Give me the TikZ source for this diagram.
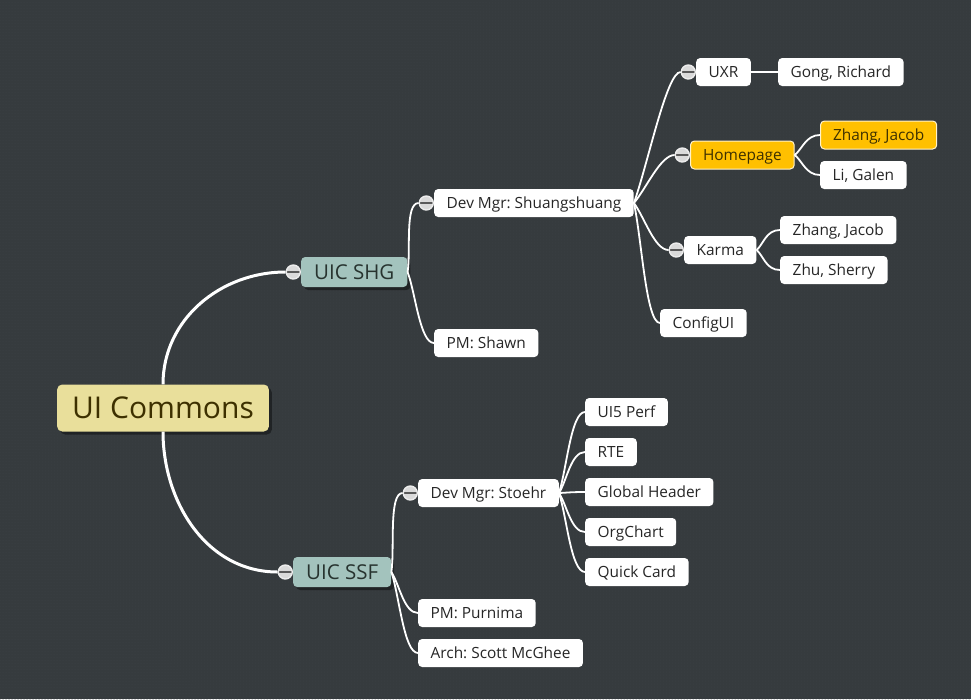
\documentclass[tikz,border=0pt]{standalone}
\usepackage{fontspec}
\setmainfont{Open Sans}
\usetikzlibrary{positioning,patterns,shadows,calc}
\frenchspacing

\definecolor{board}{HTML}{363B3E}
\definecolor{boarddot}{HTML}{41464A}
\definecolor{rootfill}{HTML}{E9DF9B}
\definecolor{roottext}{HTML}{3D3000}
\definecolor{teamfill}{HTML}{A3C3BD}
\definecolor{teamtext}{HTML}{27332F}
\definecolor{hilite}{HTML}{FFC000}
\definecolor{foldfill}{HTML}{DADADA}

\tikzset{
    twig/.style={to path={.. controls ($(\tikztostart)!0.3!(\tikztotarget)$)
        and ($(\tikztotarget)+(-14,0)$) .. (\tikztotarget) \tikztonodes}},
}

\begin{document}
\begin{tikzpicture}[x=1pt,y=-1pt,
    trunk/.style={white,line width=3pt},
    branch/.style={white,line width=1.8pt,twig},
    topic/.style={rounded corners=5pt,minimum height=47pt,inner xsep=15pt,fill=rootfill,text=roottext,
        text height=21.4pt,text depth=0pt,
        font=\fontsize{30}{33}\selectfont,drop shadow={shadow xshift=3pt,shadow yshift=-3pt,fill=black,opacity=.4}},
    team/.style={rounded corners=4pt,minimum height=30pt,inner xsep=13pt,fill=teamfill,text=teamtext,anchor=west,
        text height=14.6pt,text depth=0pt,
        font=\fontsize{20.5}{23}\selectfont,drop shadow={shadow xshift=3pt,shadow yshift=-3pt,fill=black,opacity=.4}},
    item/.style={rounded corners=4pt,minimum height=28pt,inner xsep=12.5pt,fill=white,text=black!85,anchor=west,
        text height=11pt,text depth=0pt,font=\fontsize{15.4}{18}\selectfont},
    hot/.style={item,fill=hilite,draw=white!80!hilite,line width=1pt,text=roottext},
    fold/.style={circle,minimum size=14pt,inner sep=0pt,fill=foldfill,draw=white!85!gray,line width=1.4pt,
        path picture={\draw[gray!70!black,line width=1.3pt] (path picture bounding box.west) -- (path picture bounding box.east);}}]

    % background
    \fill[board] (0,0) rectangle (971,699);
    \fill[pattern=dots,pattern color=boarddot] (0,0) rectangle (971,699);
    \useasboundingbox (0,0) rectangle (971,699);

    % central topic and teams
    \node[topic] (root) at (163,408) {UI Commons};
    \node[team] (shg) at (301,272) {UIC SHG};
    \node[team] (ssf) at (293,572) {UIC SSF};
    \node[fold,left=0pt of shg] (shg-f) {};
    \node[fold,left=0pt of ssf] (ssf-f) {};

    % SHG side
    \node[item] (dms) at (434,203) {Dev Mgr: Shuangshuang};
    \node[item] (shawn) at (434,343) {PM: Shawn};
    \node[fold,left=0pt of dms] (dms-f) {};
    \node[item] (uxr) at (696,72) {UXR};
    \node[item] (gong) at (778,72) {Gong, Richard};
    \node[hot] (home) at (690,155) {Homepage};
    \node[hot] (zhang1) at (820,135) {Zhang, Jacob};
    \node[item] (li) at (820,175) {Li, Galen};
    \node[item] (karma) at (684,250) {Karma};
    \node[item] (zhang2) at (780,230) {Zhang, Jacob};
    \node[item] (zhu) at (780,270) {Zhu, Sherry};
    \node[item] (config) at (660,323) {ConfigUI};
    \node[fold,left=0pt of uxr] (uxr-f) {};
    \node[fold,left=0pt of home] (home-f) {};
    \node[fold,left=0pt of karma] (karma-f) {};

    % SSF side
    \node[item] (dmst) at (418,493) {Dev Mgr: Stoehr};
    \node[item] (purnima) at (418,613) {PM: Purnima};
    \node[item] (arch) at (418,653) {Arch: Scott McGhee};
    \node[fold,left=0pt of dmst] (dmst-f) {};
    \node[item] (ui5) at (585,412) {UI5 Perf};
    \node[item] (rte) at (585,452) {RTE};
    \node[item] (header) at (585,492) {Global Header};
    \node[item] (org) at (585,532) {OrgChart};
    \node[item] (card) at (585,572) {Quick Card};

    % connectors
    \draw[trunk] (root.north) to[out=90,in=180] (shg-f.west);
    \draw[trunk] (root.south) to[out=-90,in=180] (ssf-f.west);
    \draw[branch] (shg.east) to (dms-f.west);
    \draw[branch] (shg.east) to (shawn.west);
    \draw[branch] (dms.east) to (uxr-f.west);
    \draw[branch] (dms.east) to (home-f.west);
    \draw[branch] (dms.east) to (karma-f.west);
    \draw[branch] (dms.east) to (config.west);
    \draw[branch] (uxr.east) to (gong.west);
    \draw[branch] (home.east) to (zhang1.west);
    \draw[branch] (home.east) to (li.west);
    \draw[branch] (karma.east) to (zhang2.west);
    \draw[branch] (karma.east) to (zhu.west);
    \draw[branch] (ssf.east) to (dmst-f.west);
    \draw[branch] (ssf.east) to (purnima.west);
    \draw[branch] (ssf.east) to (arch.west);
    \foreach \leaf in {ui5,rte,header,org,card}
        \draw[branch] (dmst.east) to (\leaf.west);
\end{tikzpicture}
\end{document}
